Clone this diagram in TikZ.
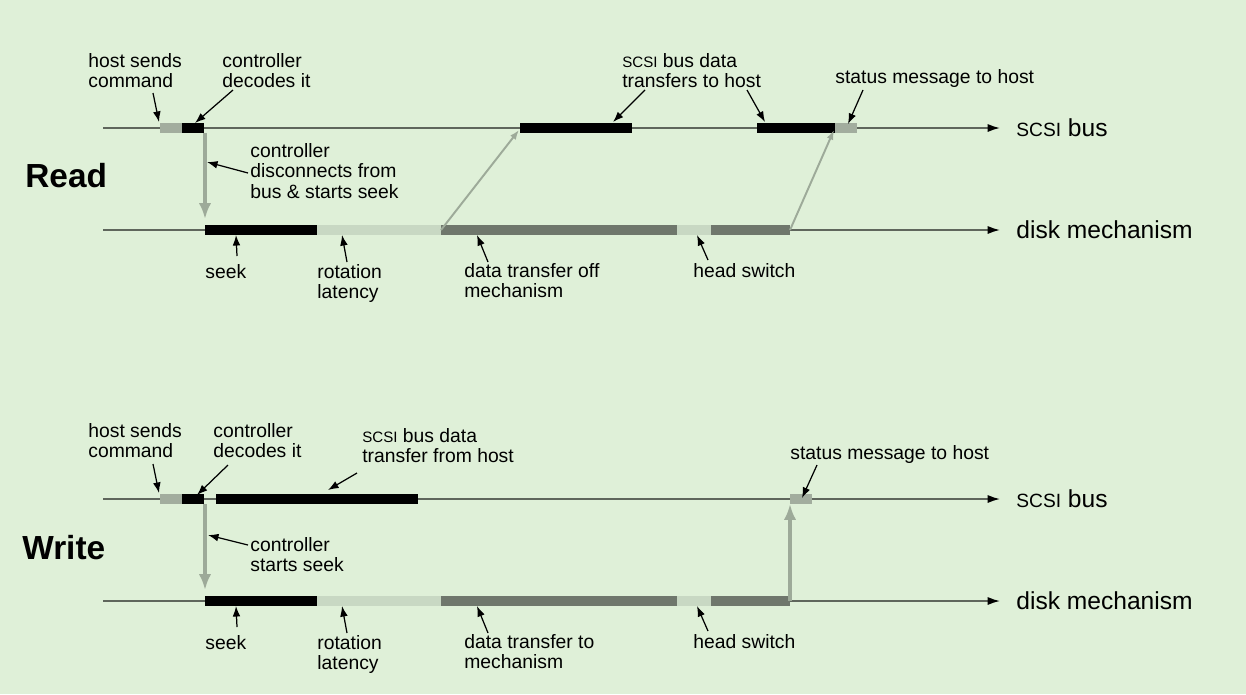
\documentclass[tikz,border=0pt]{standalone}
\usepackage{fontspec}
\setmainfont{Liberation Sans}
\usetikzlibrary{arrows.meta, positioning}
\definecolor{bgtint}{HTML}{DFF0D8}
\definecolor{lanegray}{HTML}{5F665C}
\definecolor{cmdgray}{HTML}{A2AD9E}
\definecolor{latgray}{HTML}{C8D8C3}
\definecolor{xfergray}{HTML}{6F776C}
\definecolor{hopgray}{HTML}{9DAA99}
\newcommand{\scsi}{\scalebox{0.78}{SCSI}}

\begin{document}
\begin{tikzpicture}[x=0.02cm, y=-0.02cm,
    lane/.style={draw=lanegray, line width=0.9pt, -{Latex[length=7pt,width=4.6pt,color=black]}},
    note/.style={font=\fontsize{11}{11.6}\selectfont, align=left, inner sep=0pt, anchor=north west},
    axislab/.style={font=\fontsize{14}{16}\selectfont, inner sep=0pt, anchor=west},
    title/.style={font=\fontsize{19}{21}\selectfont\bfseries, inner sep=0pt, anchor=west},
    ptr/.style={-{Latex[length=6pt,width=4.4pt]}, line width=0.7pt, black},
    hop/.style={-{Latex[length=9pt,width=7pt]}, line width=2.8pt, hopgray},
    xfer/.style={-{Latex[length=5.5pt,width=4pt]}, line width=1.1pt, hopgray},
]
\fill[bgtint] (0,0) rectangle (1246,694);

% ---- Read ----
\node[title] (read) at (25,176) {Read};
\coordinate (rbus0) at (103,128); \coordinate (rbus1) at (1000,128);
\coordinate (rdsk0) at (103,230); \coordinate (rdsk1) at (1000,230);
\draw[lane] (rbus0) -- (rbus1);
\draw[lane] (rdsk0) -- (rdsk1);
\node[axislab, right=0.32cm of rbus1] (rbuslab) {\scsi\ bus};
\node[axislab, right=0.32cm of rdsk1] (rdsklab) {disk mechanism};
% bus activity
\fill[cmdgray] (160,123) rectangle (182,133);
\fill[black] (182,123) rectangle (204,133);
\fill[black] (520,123) rectangle (632,133);
\fill[black] (757,123) rectangle (835,133);
\fill[cmdgray] (835,123) rectangle (857,133);
% disk activity
\fill[black] (205,225) rectangle (317,235);
\fill[latgray] (317,225) rectangle (441,235);
\fill[xfergray] (441,225) rectangle (677,235);
\fill[latgray] (677,225) rectangle (711,235);
\fill[xfergray] (711,225) rectangle (790,235);
% hand-offs
\coordinate (rdrop0) at (205,133); \coordinate (rdrop1) at (205,219);
\draw[hop] (rdrop0) -- (rdrop1);
\coordinate (rx1a) at (441,230); \coordinate (rx1b) at (519,130);
\coordinate (rx2a) at (790,230); \coordinate (rx2b) at (834,130);
\draw[xfer] (rx1a) -- (rx1b);
\draw[xfer] (rx2a) -- (rx2b);
% labels
\node[note] (rhs) at (88,53) {host sends\\command};
\node[note] (rcd) at (222,53) {controller\\decodes it};
\node[note] (rdc) at (250,143) {controller\\disconnects from\\bus \& starts seek};
\node[note] (rsb) at (622,53) {\scsi\ bus data\\transfers to host};
\node[note] (rsm) at (835,69) {status message to host};
\node[note] (rsk) at (205,264) {seek};
\node[note] (rrl) at (317,264) {rotation\\latency};
\node[note] (rdt) at (464,263) {data transfer off\\mechanism};
\node[note] (rhd) at (693,263) {head switch};
\coordinate (rp1a) at (153,93); \coordinate (rp1b) at (159,122);
\coordinate (rp2a) at (233,90); \coordinate (rp2b) at (195,123);
\coordinate (rp3a) at (248,173); \coordinate (rp3b) at (207,162);
\coordinate (rp4a) at (645,90); \coordinate (rp4b) at (613,122);
\coordinate (rp5a) at (747,90); \coordinate (rp5b) at (765,122);
\coordinate (rp6a) at (863,90); \coordinate (rp6b) at (848,124);
\coordinate (rp7a) at (237,256); \coordinate (rp7b) at (236,235);
\coordinate (rp8a) at (347,262); \coordinate (rp8b) at (342,235);
\coordinate (rp9a) at (488,262); \coordinate (rp9b) at (477,235);
\coordinate (rp10a) at (708,260); \coordinate (rp10b) at (697,235);
\foreach \i in {1,...,10} \draw[ptr] (rp\i a) -- (rp\i b);

% ---- Write ----
\node[title] (write) at (22,548) {Write};
\coordinate (wbus0) at (103,499); \coordinate (wbus1) at (1000,499);
\coordinate (wdsk0) at (103,601); \coordinate (wdsk1) at (1000,601);
\draw[lane] (wbus0) -- (wbus1);
\draw[lane] (wdsk0) -- (wdsk1);
\node[axislab, right=0.32cm of wbus1] (wbuslab) {\scsi\ bus};
\node[axislab, right=0.32cm of wdsk1] (wdsklab) {disk mechanism};
% bus activity
\fill[cmdgray] (160,494) rectangle (182,504);
\fill[black] (182,494) rectangle (204,504);
\fill[black] (216,494) rectangle (418,504);
\fill[cmdgray] (790,494) rectangle (812,504);
% disk activity
\fill[black] (205,596) rectangle (317,606);
\fill[latgray] (317,596) rectangle (441,606);
\fill[xfergray] (441,596) rectangle (677,606);
\fill[latgray] (677,596) rectangle (711,606);
\fill[xfergray] (711,596) rectangle (790,606);
% hand-offs
\coordinate (wdrop0) at (205,504); \coordinate (wdrop1) at (205,590);
\draw[hop] (wdrop0) -- (wdrop1);
\coordinate (wrise0) at (790,601); \coordinate (wrise1) at (790,504);
\draw[hop] (wrise0) -- (wrise1);
% labels
\node[note] (whs) at (88,423) {host sends\\command};
\node[note] (wcd) at (213,423) {controller\\decodes it};
\node[note] (wsb) at (362,428) {\scsi\ bus data\\transfer from host};
\node[note] (wss) at (250,537) {controller\\starts seek};
\node[note] (wsm) at (790,445) {status message to host};
\node[note] (wsk) at (205,635) {seek};
\node[note] (wrl) at (317,635) {rotation\\latency};
\node[note] (wdt) at (464,634) {data transfer to\\mechanism};
\node[note] (whd) at (693,634) {head switch};
\coordinate (wp1a) at (153,464); \coordinate (wp1b) at (159,493);
\coordinate (wp2a) at (228,465); \coordinate (wp2b) at (197,495);
\coordinate (wp3a) at (357,473); \coordinate (wp3b) at (328,490);
\coordinate (wp4a) at (248,545); \coordinate (wp4b) at (208,535);
\coordinate (wp5a) at (817,465); \coordinate (wp5b) at (802,498);
\coordinate (wp6a) at (237,627); \coordinate (wp6b) at (236,606);
\coordinate (wp7a) at (347,633); \coordinate (wp7b) at (342,606);
\coordinate (wp8a) at (488,633); \coordinate (wp8b) at (477,606);
\coordinate (wp9a) at (708,631); \coordinate (wp9b) at (697,606);
\foreach \i in {1,...,9} \draw[ptr] (wp\i a) -- (wp\i b);
\end{tikzpicture}
\end{document}
